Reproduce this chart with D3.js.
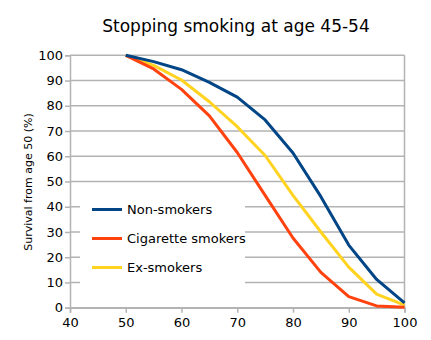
<!DOCTYPE html>
<head>
  <meta charset="utf-8">
  <script src="https://d3js.org/d3.v7.min.js"></script>
<style>
    body { margin: 0; background: #fff; }
    text { font-family: "DejaVu Sans", sans-serif; fill: #000; }
    .tick line { stroke: #b3b3b3; }
    .domain { stroke: #b3b3b3; }
</style>
</head>

<body>
  <script>

var ages = [50, 55, 60, 65, 70, 75, 80, 85, 90, 95, 100];
var nonSmokers = [100, 97.5, 94.3, 89.3, 83.4, 74.4, 61.3, 44, 24.8, 11.2, 1.9];
var cigaretteSmokers = [100, 94.6, 86.5, 76, 61.5, 44.5, 27.6, 14, 4.4, 0.7, 0.2];
var exSmokers = [100, 96, 90.2, 81.6, 71.7, 60.3, 44.5, 30, 16.1, 5.4, 1];
var seriesNames = ["Non-smokers", "Cigarette smokers", "Ex-smokers"];
var seriesColors = ["#004586", "#ff420e", "#ffd320"];
var xTicks = [40, 50, 60, 70, 80, 90, 100];
var yTicks = [0, 10, 20, 30, 40, 50, 60, 70, 80, 90, 100];

var width = 431;
var height = 340;

var svg = d3.select("body")
    .append("svg")
    .attr("width", width)
    .attr("height", height);

var x = d3.scaleLinear().domain([40, 100]).range([70, 404.5]);
var y = d3.scaleLinear().domain([0, 100]).range([307.7, 55.3]);

// horizontal grid
svg.append("g")
    .selectAll("line")
    .data(yTicks)
    .enter()
    .append("line")
    .attr("x1", x(40)).attr("x2", x(100))
    .attr("y1", function (d) { return y(d); })
    .attr("y2", function (d) { return y(d); })
    .style("stroke", "#b3b3b3")
    .style("stroke-width", 1.5);

// right border
svg.append("line")
    .attr("x1", x(100)).attr("x2", x(100))
    .attr("y1", y(0)).attr("y2", y(100))
    .style("stroke", "#b3b3b3")
    .style("stroke-width", 1.5);

svg.append("g")
    .attr("transform", "translate(" + x(40) + ",0)")
    .call(d3.axisLeft(y).tickValues(yTicks).tickSize(5).tickPadding(2))
    .call(function (g) {
        g.selectAll("text").style("font-size", "13px");
        g.selectAll("line, path").style("stroke-width", 1.5);
    });

svg.append("g")
    .attr("transform", "translate(0," + y(0) + ")")
    .call(d3.axisBottom(x).tickValues(xTicks).tickSize(5).tickPadding(5))
    .call(function (g) {
        g.selectAll("text").style("font-size", "13px");
        g.selectAll("line, path").style("stroke-width", 1.5);
    });

// legend background
svg.append("rect")
    .attr("x", 80).attr("y", 190)
    .attr("width", 165).attr("height", 100)
    .style("fill", "#fff");

var allSeries = [nonSmokers, cigaretteSmokers, exSmokers];

var line = d3.line()
    .x(function (d, i) { return x(ages[i]); })
    .y(function (d) { return y(d); });

// draw ex-smokers under the others, as in the original
[2, 1, 0].forEach(function (k) {
    svg.append("path")
        .datum(allSeries[k])
        .attr("d", line)
        .style("fill", "none")
        .style("stroke", seriesColors[k])
        .style("stroke-width", 3)
        .style("stroke-linejoin", "round");
});

var legend = svg.append("g")
    .selectAll("g")
    .data(seriesNames)
    .enter()
    .append("g")
    .attr("transform", function (d, i) { return "translate(92," + (209.5 + i * 29) + ")"; });

legend.append("line")
    .attr("x1", 0).attr("x2", 30)
    .style("stroke", function (d, i) { return seriesColors[i]; })
    .style("stroke-width", 3);

legend.append("text")
    .attr("x", 35)
    .attr("dy", "0.35em")
    .style("font-size", "13px")
    .text(function (d) { return d; });

svg.append("text")
    .attr("x", 236)
    .attr("y", 32)
    .attr("text-anchor", "middle")
    .style("font-size", "17px")
    .text("Stopping smoking at age 45-54");

svg.append("text")
    .attr("transform", "translate(32,182) rotate(-90)")
    .attr("text-anchor", "middle")
    .style("font-size", "11px")
    .text("Survival from age 50 (%)");

  </script>
</body>
